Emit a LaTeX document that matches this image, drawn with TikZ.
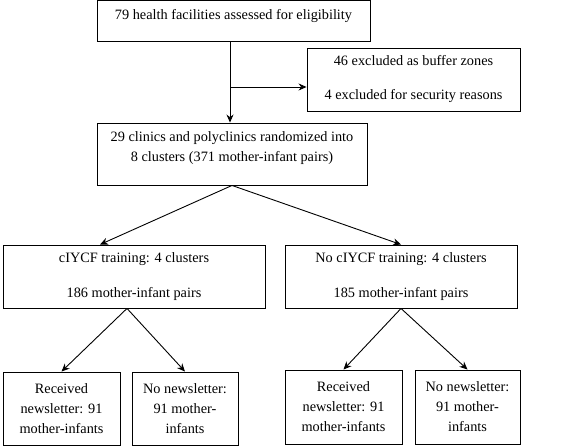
\documentclass[tikz,border=0pt]{standalone}
\usepackage{fontspec}
\setmainfont{Liberation Serif}
\usetikzlibrary{arrows.meta}

\begin{document}
\begin{tikzpicture}[x=1pt, y=-1pt,
	box/.style={draw, line width=0.9pt, inner sep=0pt, align=center, font=\fontsize{14.3}{20}\selectfont},
	arrow/.style={-{Stealth[length=8pt, width=7pt]}, line width=0.9pt}]
	\useasboundingbox (0, 0) rectangle (567, 446);

	% boxes
	\node[box, minimum width=273pt, minimum height=40.5pt, text depth=12pt] (top) at (233.5, 20.8)
		{79 health facilities assessed for eligibility};
	\node[box, minimum width=213pt, minimum height=63pt] (excl) at (413.5, 79.5)
		{46 excluded as buffer zones\\[14pt]4 excluded for security reasons};
	\node[box, minimum width=270pt, minimum height=62pt, text depth=14pt] (rand) at (232, 154)
		{29 clinics and polyclinics randomized into\\8 clusters (371 mother-infant pairs)};
	\node[box, minimum width=262pt, minimum height=63pt] (train) at (134, 276.5)
		{cIYCF training: 4 clusters\\[15pt]186 mother-infant pairs};
	\node[box, minimum width=232pt, minimum height=63pt] (ctrl) at (401, 276.5)
		{No cIYCF training: 4 clusters\\[15pt]185 mother-infant pairs};
	\node[box, minimum width=117pt, minimum height=73pt] (recv1) at (61.5, 408.5)
		{Received\\newsletter: 91\\mother-infants};
	\node[box, minimum width=106pt, minimum height=73pt] (nonews1) at (185, 408.5)
		{No newsletter:\\91 mother-\\infants};
	\node[box, minimum width=117pt, minimum height=74pt] (recv2) at (343.5, 407)
		{Received\\newsletter: 91\\mother-infants};
	\node[box, minimum width=105pt, minimum height=74pt] (nonews2) at (467.5, 407)
		{No newsletter:\\91 mother-\\infants};

	% arrows
	\coordinate (split) at (230, 87);
	\draw[arrow] (top.south -| split) -- (rand.north -| split);
	\draw[arrow] (split) -- (excl.west |- split);
	\draw[arrow] (rand.south) -- ([xshift=-34pt]train.north);
	\draw[arrow] (rand.south) -- (ctrl.north);
	\draw[arrow] ([xshift=-7pt]train.south) -- (recv1.north);
	\draw[arrow] ([xshift=-7pt]train.south) -- (nonews1.north);
	\draw[arrow] (ctrl.south) -- (recv2.north);
	\draw[arrow] (ctrl.south) -- (nonews2.north);
\end{tikzpicture}
\end{document}
